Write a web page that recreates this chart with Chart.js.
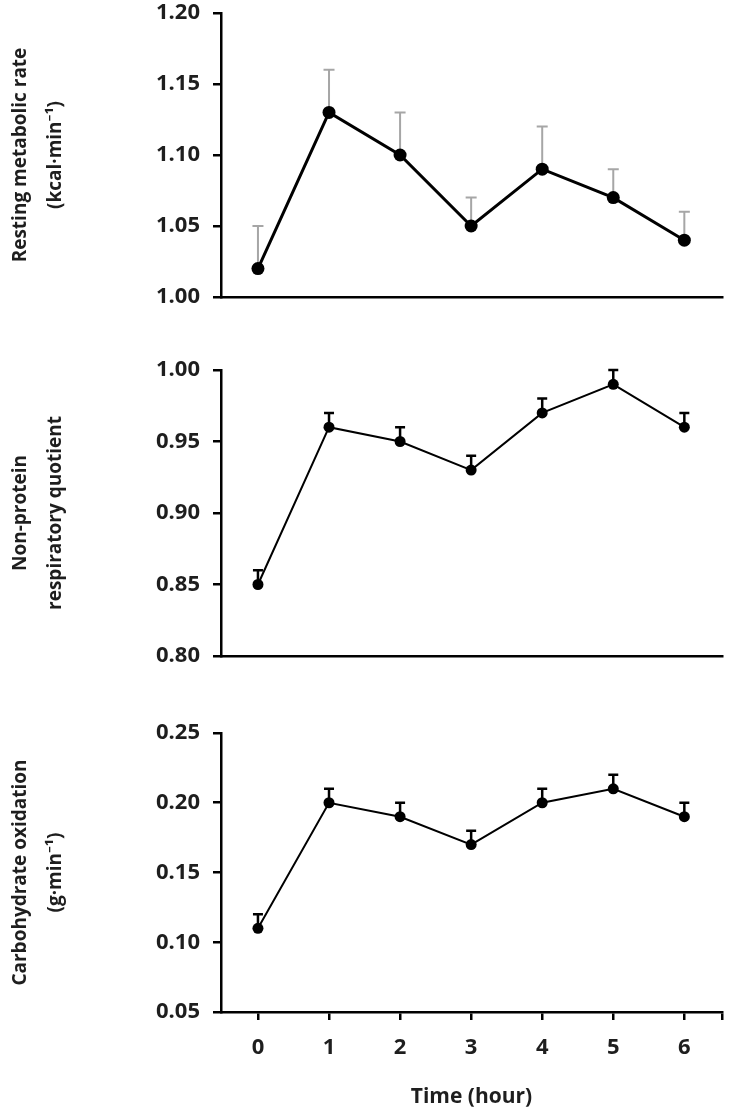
<!DOCTYPE html>
<html lang="en">
<head>
  <meta charset="UTF-8" />
  <title>Metabolic responses over time</title>
  <style>
    body { margin: 0; background: #fff; }
    .wrap { position: relative; width: 733px; height: 1119px; overflow: hidden; }
    .wrap canvas { position: absolute; left: 0; }
  </style>
</head>
<body>
  <div class="wrap">
    <canvas id="rmrChart" width="733" height="312" style="top:0px"></canvas>
    <canvas id="rqChart" width="733" height="316" style="top:355px"></canvas>
    <canvas id="choChart" width="733" height="401" style="top:718px"></canvas>
  </div>

  <script src="https://cdn.jsdelivr.net/npm/chart.js"></script>
  <script>
    // time points (hour)
    const hours = [0, 1, 2, 3, 4, 5, 6];

    // resting metabolic rate (kcal/min) and its SE
    const rmr = [1.02, 1.13, 1.10, 1.05, 1.09, 1.07, 1.04];
    const rmrErr = [0.03, 0.03, 0.03, 0.02, 0.03, 0.02, 0.02];

    // non-protein respiratory quotient
    const npRq = [0.85, 0.96, 0.95, 0.93, 0.97, 0.99, 0.96];
    const npRqErr = [0.01, 0.01, 0.01, 0.01, 0.01, 0.01, 0.01];

    // carbohydrate oxidation (g/min)
    const cho = [0.11, 0.20, 0.19, 0.17, 0.20, 0.21, 0.19];
    const choErr = [0.01, 0.01, 0.01, 0.01, 0.01, 0.01, 0.01];

    const FONT = "'Open Sans', 'Noto Sans', sans-serif";
    const TXT = "#1e1e1e";

    // upper error bars, drawn under the points
    const errorBars = {
      id: "errorBars",
      beforeDatasetsDraw(chart) {
        const o = chart.options.plugins.errorBars;
        if (!o) return;
        const ctx = chart.ctx;
        const xs = chart.scales.x, ys = chart.scales.y;
        const vals = chart.data.datasets[0].data;
        ctx.save();
        ctx.strokeStyle = o.color;
        ctx.lineWidth = o.width;
        vals.forEach((p, i) => {
          const x = xs.getPixelForValue(p.x);
          const y0 = ys.getPixelForValue(p.y);
          const y1 = ys.getPixelForValue(p.y + o.errors[i]);
          ctx.beginPath();
          ctx.moveTo(x, y0);
          ctx.lineTo(x, y1);
          ctx.moveTo(x - o.cap / 2, y1);
          ctx.lineTo(x + o.cap / 2, y1);
          ctx.stroke();
        });
        ctx.restore();
      }
    };

    function makePanel(id, vals, errs, yMin, yMax, title, st) {
      const isBottom = !!st.bottom;
      return new Chart(document.getElementById(id), {
        type: "line",
        data: {
          datasets: [{
            data: hours.map((h, i) => ({ x: h, y: vals[i] })),
            borderColor: "#000",
            backgroundColor: "#000",
            borderWidth: st.lineWidth,
            pointRadius: st.radius,
            pointBackgroundColor: "#000",
            pointBorderWidth: 0,
            tension: 0
          }]
        },
        options: {
          responsive: false,
          animation: false,
          layout: { padding: { left: 0, right: 11, top: st.padTop, bottom: st.padBottom } },
          plugins: {
            legend: { display: false },
            tooltip: { enabled: false },
            errorBars: { errors: errs, color: st.errColor, width: st.errWidth, cap: st.cap }
          },
          scales: {
            x: {
              type: "linear",
              min: -0.52,
              max: 6.53,
              border: { display: true, color: "#000", width: 2.5 },
              grid: {
                display: isBottom,
                drawOnChartArea: false,
                drawTicks: isBottom,
                tickLength: 8,
                color: "#000",
                lineWidth: 2.5
              },
              ticks: {
                display: isBottom,
                padding: 15,
                color: TXT,
                font: { family: FONT, size: 22, weight: "bold" },
                callback: v => (hours.includes(v) ? String(v) : "")
              },
              afterBuildTicks: s => {
                s.ticks = hours.map(h => ({ value: h })).concat([{ value: 6.53 }]);
              },
              title: {
                display: isBottom,
                text: "Time (hour)",
                color: TXT,
                padding: { top: 0, bottom: 9 },
                font: { family: FONT, size: 21, weight: "bold" }
              },
              afterFit: s => {
                s.height = isBottom ? 107 : 0;
                s.paddingLeft = 0;
                s.paddingRight = 0;
              }
            },
            y: {
              min: yMin,
              max: yMax,
              border: { display: true, color: "#000", width: 2.5 },
              grid: {
                drawOnChartArea: false,
                drawTicks: true,
                tickLength: 8,
                color: "#000",
                lineWidth: 2.5
              },
              ticks: {
                stepSize: 0.05,
                padding: 13,
                color: TXT,
                font: { family: FONT, size: 22, weight: "bold" },
                callback: v => v.toFixed(2)
              },
              title: {
                display: true,
                text: title,
                color: TXT,
                padding: { top: 3, bottom: 0 },
                font: { family: FONT, size: 19, weight: "bold", lineHeight: "35px" }
              },
              afterFit: s => {
                s.width = 221;
                s.paddingTop = 0;
                s.paddingBottom = 0;
              }
            }
          }
        },
        plugins: [errorBars]
      });
    }

    makePanel("rmrChart", rmr, rmrErr, 1.00, 1.20,
      ["Resting metabolic rate", "(kcal·min⁻¹)"],
      { lineWidth: 3, radius: 6.5, errColor: "#a6a6a6", errWidth: 2, cap: 11, padTop: 13, padBottom: 15 });

    makePanel("rqChart", npRq, npRqErr, 0.80, 1.00,
      ["Non-protein", "respiratory quotient"],
      { lineWidth: 2, radius: 5.5, errColor: "#000", errWidth: 2.5, cap: 10, padTop: 15, padBottom: 15 });

    makePanel("choChart", cho, choErr, 0.05, 0.25,
      ["Carbohydrate oxidation", "(g·min⁻¹)"],
      { lineWidth: 2, radius: 5.5, errColor: "#000", errWidth: 2.5, cap: 10, padTop: 15, padBottom: 0, bottom: true });
  </script>
</body>
</html>
